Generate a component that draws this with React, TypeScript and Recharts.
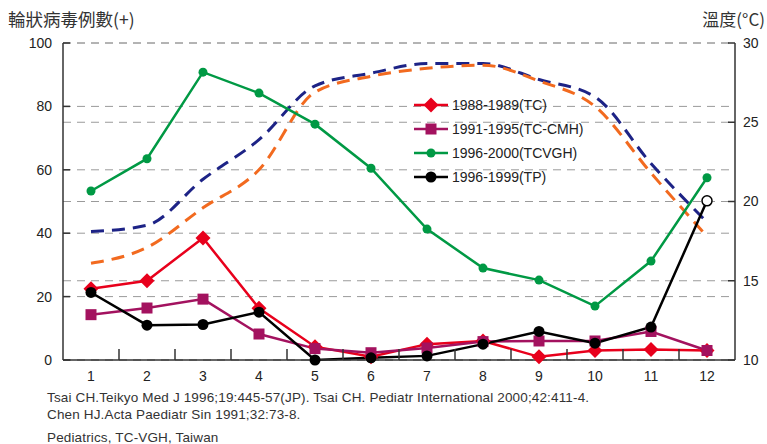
import { LineChart, Line, XAxis, YAxis, CartesianGrid, Legend } from 'recharts';

// monthly rotavirus positive counts, four surveillance periods
const months = [1, 2, 3, 4, 5, 6, 7, 8, 9, 10, 11, 12];
const tc8889 = [22.5, 25, 38.5, 16.3, 4.2, 1, 5, 6, 1, 3, 3.3, 3];
const tcCmh9195 = [14.3, 16.4, 19.2, 8.2, 3.6, 2.3, 3.8, 5.8, 6, 6, 9, 3];
const tcvgh9600 = [53.3, 63.5, 90.8, 84.2, 74.4, 60.5, 41.3, 29, 25.2, 17, 31.2, 57.5];
const tp9699 = [21.3, 11, 11.2, 15.1, 0, 0.7, 1.3, 5, 9, 5.3, 10.4, 50.2];

// monthly mean temperature (°C), two stations
const tempA = [18.1, 18.5, 21.4, 23.9, 27.3, 28.1, 28.7, 28.7, 27.7, 26.6, 22.4, 18.7];
const tempB = [16.1, 17.1, 19.6, 22, 26.9, 27.9, 28.4, 28.6, 27.6, 26, 21.8, 17.8];

const countTicks = [0, 20, 40, 60, 80, 100];
const tempTicks = [10, 15, 20, 25, 30];
// integer ticks carry the month label, half ticks mark the boundaries
const monthTicks = months.flatMap((m) => (m < 12 ? [m, m + 0.5] : [m]));

const data = months.map((month, i) => ({
  month,
  tc8889: tc8889[i],
  tcCmh9195: tcCmh9195[i],
  tcvgh9600: tcvgh9600[i],
  tp9699: tp9699[i],
  tempA: tempA[i],
  tempB: tempB[i],
}));

const RED = '#e8001c';
const PURPLE = '#a3125f';
const GREEN = '#009944';
const BLACK = '#000000';
const NAVY = '#1d2386';
const ORANGE = '#f26a1f';

const AXIS = '#333';
const FONT = '"Liberation Sans", Arial, sans-serif';
const CJK = '"Noto Sans CJK TC", "Noto Sans CJK SC", sans-serif';

const series = [
  { key: 'tc8889', name: '1988-1989(TC)', color: RED, shape: 'diamond' },
  { key: 'tcCmh9195', name: '1991-1995(TC-CMH)', color: PURPLE, shape: 'square' },
  { key: 'tcvgh9600', name: '1996-2000(TCVGH)', color: GREEN, shape: 'dot' },
  { key: 'tp9699', name: '1996-1999(TP)', color: BLACK, shape: 'circle' },
];

const Marker = ({ shape, cx, cy, color, hollow }: any) => {
  if (shape === 'diamond') {
    const r = 7.5;
    return <polygon points={`${cx},${cy - r} ${cx + r},${cy} ${cx},${cy + r} ${cx - r},${cy}`} fill={color} />;
  }
  if (shape === 'square') {
    return <rect x={cx - 5.5} y={cy - 5.5} width={11} height={11} fill={color} />;
  }
  if (shape === 'dot') {
    return <circle cx={cx} cy={cy} r={4.5} fill={color} />;
  }
  if (hollow) {
    return <circle cx={cx} cy={cy} r={5} fill="#fff" stroke={color} strokeWidth={1.5} />;
  }
  return <circle cx={cx} cy={cy} r={5.5} fill={color} />;
};

const makeDot = (shape: string, color: string) => (props: any) => {
  const { cx, cy, index } = props;
  if (cx == null || cy == null) return <g key={`d-${index}`} />;
  // the last TP point is drawn open
  const hollow = shape === 'circle' && index === months.length - 1;
  return (
    <g key={`d-${shape}-${index}`}>
      <Marker shape={shape} cx={cx} cy={cy} color={color} hollow={hollow} />
    </g>
  );
};

const MonthTick = (props: any) => {
  const { x, y, payload } = props;
  const v = payload.value;
  if (Number.isInteger(v)) {
    return (
      <text x={x} y={y + 21} textAnchor="middle" fontSize={14} fontFamily={FONT} fill="#222">
        {v}
      </text>
    );
  }
  return <line x1={x} x2={x} y1={y} y2={y - 11} stroke={AXIS} strokeWidth={1.5} />;
};

const LegendBox = () => (
  <div style={{ fontFamily: FONT, fontSize: 14, color: '#222' }}>
    {series.map((s) => (
      <div key={s.key} style={{ display: 'flex', alignItems: 'center', height: 24 }}>
        <svg width={38} height={20} style={{ display: 'block' }}>
          <line x1={1} x2={35} y1={10} y2={10} stroke={s.color} strokeWidth={2.5} />
          <Marker shape={s.shape} cx={18} cy={10} color={s.color} />
        </svg>
        <span style={{ marginLeft: 1 }}>{s.name}</span>
      </div>
    ))}
  </div>
);

export default function App() {
  return (
    <div style={{ position: 'absolute', left: 0, top: 0, width: 767, height: 444, background: '#fff' }}>
      <div style={{ position: 'absolute', left: 8, top: 6, fontFamily: CJK, fontSize: 17.5, color: '#333' }}>
        輪狀病毒例數(+)
      </div>
      <div style={{ position: 'absolute', right: 2, top: 6, fontFamily: CJK, fontSize: 17, color: '#333' }}>
        溫度(°C)
      </div>
      <LineChart width={767} height={444} data={data} margin={{ top: 43, right: 0, bottom: 54, left: 0 }}>
        <CartesianGrid yAxisId="count" vertical={false} stroke="#9a9a9a" strokeDasharray="8 6" />
        <CartesianGrid yAxisId="temp" vertical={false} stroke="#9a9a9a" strokeDasharray="8 6" />
        <XAxis
          dataKey="month"
          type="number"
          domain={[0.5, 12.5]}
          ticks={monthTicks}
          interval={0}
          height={30}
          tickSize={0}
          tickMargin={0}
          tickLine={false}
          tick={MonthTick}
          axisLine={{ stroke: AXIS, strokeWidth: 1.5 }}
        />
        <YAxis
          yAxisId="count"
          domain={[0, 100]}
          ticks={countTicks}
          width={63}
          tickSize={-7}
          tickMargin={18}
          tick={{ fontSize: 14, fontFamily: FONT, fill: '#222' }}
          tickLine={{ stroke: AXIS, strokeWidth: 1.5 }}
          axisLine={{ stroke: AXIS, strokeWidth: 1.5 }}
        />
        <YAxis
          yAxisId="temp"
          orientation="right"
          domain={[10, 30]}
          ticks={tempTicks}
          width={32}
          tickSize={-7}
          tickMargin={15}
          tick={{ fontSize: 14, fontFamily: FONT, fill: '#222' }}
          tickLine={{ stroke: AXIS, strokeWidth: 1.5 }}
          axisLine={{ stroke: AXIS, strokeWidth: 1.5 }}
        />
        <Legend
          layout="horizontal"
          verticalAlign="middle"
          align="center"
          content={() => <LegendBox />}
          wrapperStyle={{ left: 413, top: 93, width: 220 }}
        />
        <Line
          yAxisId="temp"
          dataKey="tempA"
          type="monotone"
          stroke={NAVY}
          strokeWidth={3}
          strokeDasharray="13 8"
          dot={false}
          legendType="none"
          isAnimationActive={false}
        />
        <Line
          yAxisId="temp"
          dataKey="tempB"
          type="monotone"
          stroke={ORANGE}
          strokeWidth={3}
          strokeDasharray="13 8"
          dot={false}
          legendType="none"
          isAnimationActive={false}
        />
        {series.map((s) => (
          <Line
            key={s.key}
            yAxisId="count"
            dataKey={s.key}
            name={s.name}
            type="linear"
            stroke={s.color}
            strokeWidth={2.5}
            dot={makeDot(s.shape, s.color)}
            activeDot={false}
            isAnimationActive={false}
          />
        ))}
      </LineChart>
      <div style={{ position: 'absolute', left: 47, top: 389, fontFamily: FONT, fontSize: 13.5, letterSpacing: 0.15, color: '#333', lineHeight: '17px' }}>
        <div>Tsai CH.Teikyo Med J 1996;19:445-57(JP). Tsai CH. Pediatr International 2000;42:411-4.</div>
        <div>Chen HJ.Acta Paediatr Sin 1991;32:73-8.</div>
        <div style={{ marginTop: 6 }}>Pediatrics, TC-VGH, Taiwan</div>
      </div>
    </div>
  );
}
